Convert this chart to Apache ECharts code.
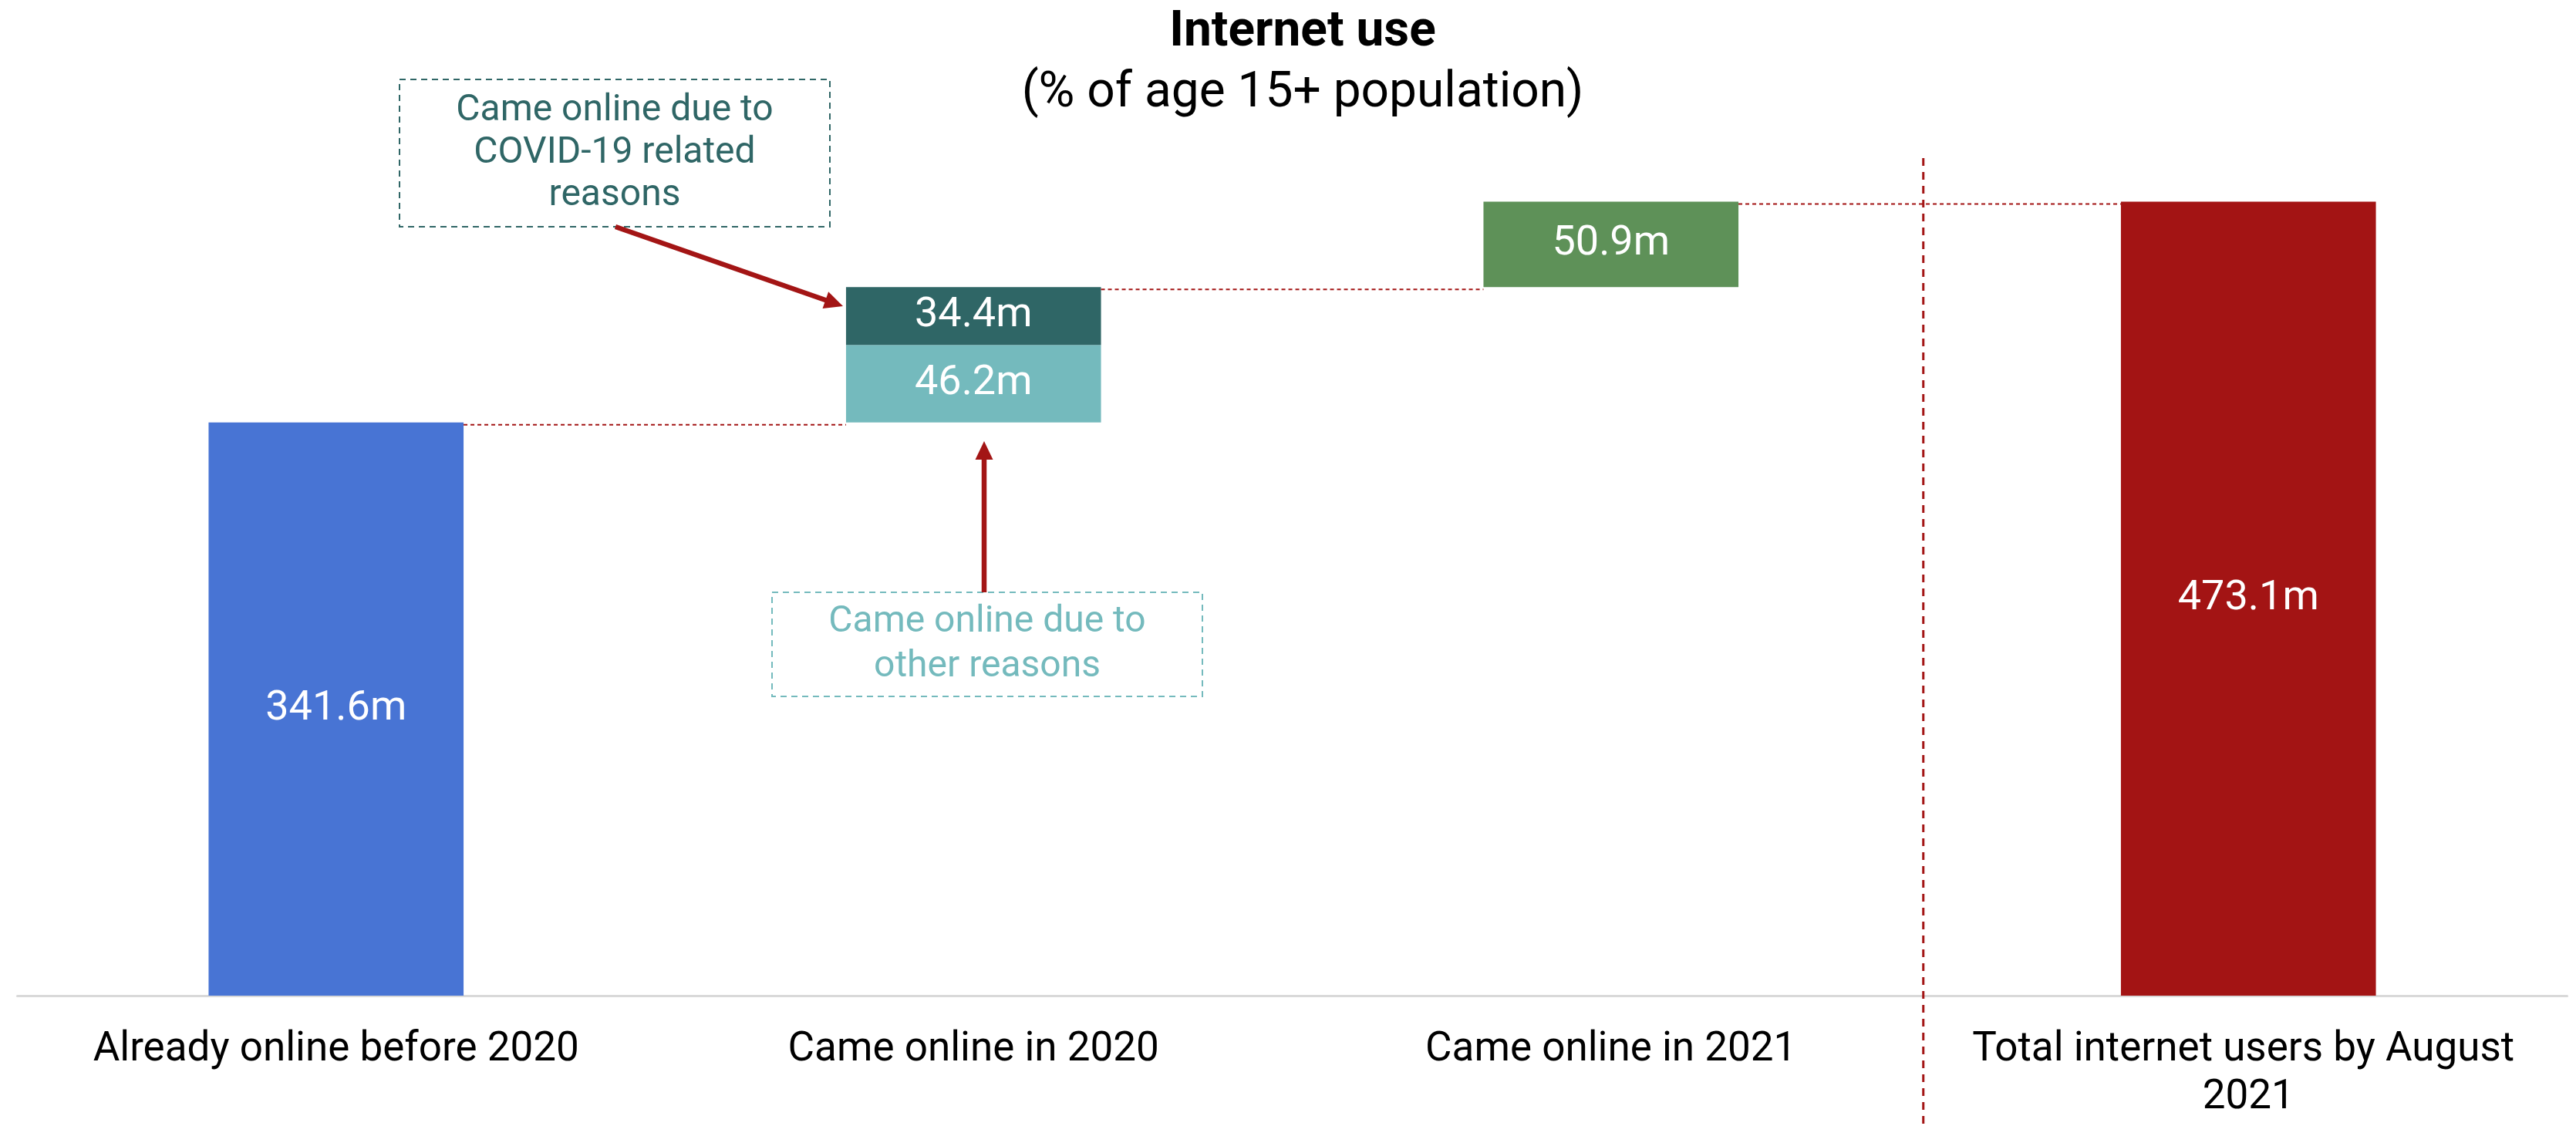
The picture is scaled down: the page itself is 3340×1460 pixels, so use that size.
<!DOCTYPE html>
<html>
<head>
<meta charset="utf-8">
<script src="https://cdn.jsdelivr.net/npm/echarts@6/dist/echarts.min.js"></script>
<style>
  html, body { margin: 0; padding: 0; background: #ffffff; }
  #chart { width: 3340px; height: 1460px; }
</style>
</head>
<body>
<div id="chart"></div>
<script>
// Internet users (millions), waterfall of how the total was reached
const categories = [
  'Already online before 2020',
  'Came online in 2020',
  'Came online in 2021',
  'Total internet users by August 2021'
];
// first (lower) segment of each column
const mainSegment = [341.6, 46.2, 50.9, 473.1];
// COVID-19 related part of the 2020 column
const covidSegment = [null, 34.4, null, null];
// the last column is a total, drawn from zero
const isTotal = [false, false, false, true];

const segmentColors = ['#4874D4', '#74BABD', '#5E9158', '#A31414'];
const covidColor = '#2F6666';
const accentRed = '#A31515';
const FONT = 'Roboto';

// floating offsets for each step, and the running levels joined by connectors
const offsets = [];
const levels = [];
let running = 0;
categories.forEach(function (c, i) {
  if (isTotal[i]) {
    offsets.push(0);
  } else {
    offsets.push(running);
    running += mainSegment[i] + (covidSegment[i] || 0);
    levels.push([i, running]);
  }
});

const chart = echarts.init(document.getElementById('chart'), null, { renderer: 'canvas' });

const valueLabel = {
  show: true,
  position: 'inside',
  color: '#ffffff',
  fontFamily: FONT,
  fontSize: 54,
  formatter: function (p) { return p.value == null ? '' : p.value.toFixed(1) + 'm'; }
};

function arrow(x1, y1, x2, y2) {
  const dx = x2 - x1, dy = y2 - y1;
  const len = Math.sqrt(dx * dx + dy * dy);
  const ux = dx / len, uy = dy / len;
  const headLen = 24, headHalf = 11.5;
  const bx = x2 - ux * headLen, by = y2 - uy * headLen;
  const px = -uy * headHalf, py = ux * headHalf;
  return [
    { type: 'line', shape: { x1: x1, y1: y1, x2: bx + ux * 2, y2: by + uy * 2 },
      style: { stroke: accentRed, lineWidth: 6.5 }, z: 20 },
    { type: 'polygon', shape: { points: [[x2, y2], [bx + px, by + py], [bx - px, by - py]] },
      style: { fill: accentRed }, z: 20 }
  ];
}

function noteBox(x, y, w, h, text, color, lineHeight) {
  return [
    { type: 'rect', shape: { x: x, y: y, width: w, height: h },
      style: { fill: 'none', stroke: color, lineWidth: 2, lineDash: [8, 6] }, z: 15 },
    { type: 'text', x: x + w / 2, y: y + h / 2,
      style: { text: text, fill: color, font: '48px ' + FONT, align: 'center',
               verticalAlign: 'middle', lineHeight: lineHeight }, z: 15 }
  ];
}

const option = {
  backgroundColor: '#ffffff',
  animation: false,
  title: [
    { text: 'Internet use', left: 1684, top: 0, textAlign: 'center',
      textStyle: { fontFamily: FONT, fontSize: 64, fontWeight: 'bold', color: '#000000', lineHeight: 76 } },
    { text: '(% of age 15+ population)', left: 1684, top: 79, textAlign: 'center',
      textStyle: { fontFamily: FONT, fontSize: 64, fontWeight: 'normal', color: '#000000', lineHeight: 76 } }
  ],
  grid: { left: 22.5, right: 11.5, top: 203, bottom: 169, containLabel: false },
  xAxis: {
    type: 'category',
    data: categories,
    axisTick: { show: false },
    axisLine: { show: true, lineStyle: { color: '#D9D9D9', width: 3 } },
    axisLabel: {
      interval: 0, margin: 40, color: '#000000', fontFamily: FONT, fontSize: 53,
      lineHeight: 62, width: 745, overflow: 'break'
    }
  },
  yAxis: { type: 'value', min: 0, max: 500, show: false, splitLine: { show: false } },
  series: [
    {
      name: 'offset', type: 'bar', stack: 'w', barWidth: '40%',
      itemStyle: { color: 'transparent' }, emphasis: { disabled: true },
      data: offsets
    },
    {
      name: 'main', type: 'bar', stack: 'w', barWidth: '40%',
      label: valueLabel,
      data: mainSegment.map(function (v, i) {
        return { value: v, itemStyle: { color: segmentColors[i] } };
      })
    },
    {
      name: 'covid', type: 'bar', stack: 'w', barWidth: '40%',
      itemStyle: { color: covidColor },
      label: valueLabel,
      data: covidSegment
    },
    {
      // dotted connectors from the top of one step to the start of the next
      name: 'connectors', type: 'custom', z: 5,
      data: levels,
      renderItem: function (params, api) {
        const i = api.value(0), lvl = api.value(1);
        const a = api.coord([i, lvl]);
        const b = api.coord([i + 1, lvl]);
        const half = api.size([1, 0])[0] * 0.4 / 2;
        return {
          type: 'line',
          shape: { x1: a[0] + half, y1: a[1] + 3, x2: b[0] - half, y2: b[1] + 3 },
          style: { stroke: accentRed, lineWidth: 2, lineDash: [5, 4] }
        };
      }
    },
    {
      // separator between the steps and the total
      name: 'separator', type: 'custom', z: 4,
      data: [[2, 500]],
      renderItem: function (params, api) {
        const p = api.coord([api.value(0), api.value(1)]);
        const band = api.size([1, 0])[0];
        const x = p[0] + band * 0.49;
        return {
          type: 'line',
          shape: { x1: x, y1: p[1] + 2, x2: x, y2: api.getHeight() },
          style: { stroke: accentRed, lineWidth: 3, lineDash: [10, 8] }
        };
      }
    }
  ],
  graphic: [].concat(
    noteBox(518, 103, 558, 191, 'Came online due to\nCOVID-19 related\nreasons', '#2F6666', 55),
    noteBox(1001, 768, 558, 135, 'Came online due to\nother reasons', '#74BABD', 58),
    arrow(798, 294, 1093, 397),
    arrow(1276, 768, 1276, 572)
  )
};

chart.setOption(option);
</script>
</body>
</html>
